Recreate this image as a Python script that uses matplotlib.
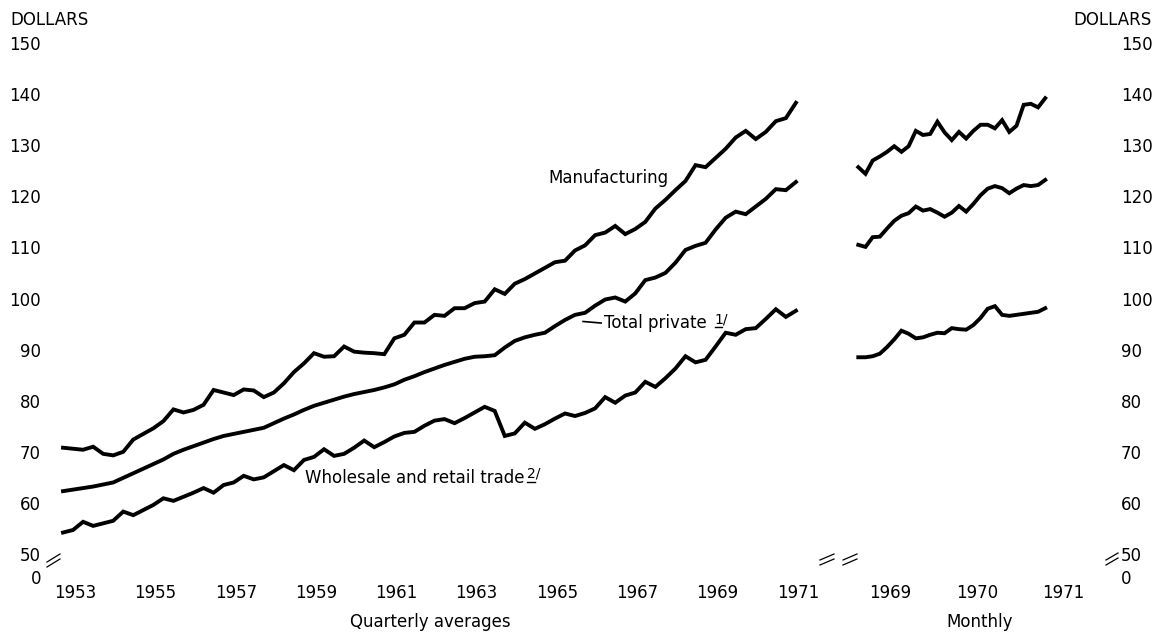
import matplotlib.pyplot as plt
from matplotlib.lines import Line2D

# Average weekly earnings, quarterly averages 1953 Q1 - 1971 Q2
manufacturing_q = [
    70.8, 70.6, 70.4, 71.0, 69.6, 69.3, 70.0, 72.4, 73.5, 74.6,
    76.0, 78.3, 77.7, 78.2, 79.2, 82.1, 81.6, 81.1, 82.2, 82.0,
    80.7, 81.6, 83.4, 85.6, 87.3, 89.3, 88.6, 88.7, 90.6, 89.6,
    89.4, 89.3, 89.1, 92.2, 92.9, 95.3, 95.3, 96.8, 96.6, 98.1,
    98.1, 99.1, 99.4, 101.8, 100.9, 102.9, 103.8, 104.9, 106.0, 107.1,
    107.4, 109.4, 110.4, 112.4, 112.9, 114.2, 112.6, 113.6, 115.0, 117.6,
    119.3, 121.2, 123.0, 126.1, 125.7, 127.5, 129.3, 131.5, 132.8, 131.2,
    132.6, 134.7, 135.3, 138.3,
]
total_private_q = [
    62.3, 62.6, 62.9, 63.2, 63.6, 64.0, 64.9, 65.8, 66.7, 67.6,
    68.5, 69.6, 70.4, 71.1, 71.8, 72.5, 73.1, 73.5, 73.9, 74.3,
    74.7, 75.6, 76.5, 77.3, 78.2, 79.0, 79.6, 80.2, 80.8, 81.3,
    81.7, 82.1, 82.6, 83.2, 84.1, 84.8, 85.6, 86.3, 87.0, 87.6,
    88.2, 88.6, 88.7, 88.9, 90.4, 91.7, 92.4, 92.9, 93.3, 94.6,
    95.8, 96.8, 97.2, 98.6, 99.8, 100.2, 99.4, 101.0, 103.6, 104.1,
    105.0, 107.0, 109.5, 110.3, 110.9, 113.5, 115.8, 117.0, 116.5, 118.0,
    119.5, 121.4, 121.2, 122.8,
]
trade_q = [
    54.2, 54.7, 56.3, 55.5, 56.0, 56.5, 58.3, 57.6, 58.6, 59.6,
    60.9, 60.4, 61.2, 62.0, 62.9, 62.0, 63.5, 64.0, 65.3, 64.6,
    65.0, 66.2, 67.4, 66.4, 68.4, 69.0, 70.5, 69.2, 69.6, 70.8,
    72.2, 70.9, 71.9, 73.0, 73.7, 73.9, 75.1, 76.1, 76.4, 75.6,
    76.6, 77.7, 78.8, 78.0, 73.1, 73.6, 75.7, 74.5, 75.4, 76.5,
    77.5, 77.0, 77.6, 78.5, 80.7, 79.6, 81.0, 81.6, 83.7, 82.7,
    84.4, 86.3, 88.7, 87.5, 88.0, 90.6, 93.3, 92.9, 94.0, 94.2,
    96.0, 97.9, 96.4, 97.6,
]

# Monthly, Feb 1969 - Apr 1971
manufacturing_m = [
    125.7, 124.4, 127.0, 127.8, 128.7, 129.8, 128.7, 129.8, 132.8, 132.0,
    132.2, 134.6, 132.5, 131.0, 132.6, 131.3, 132.8, 134.0, 134.0, 133.3,
    134.9, 132.6, 133.8, 137.9, 138.1, 137.4, 139.2,
]
total_private_m = [
    110.5, 110.1, 112.0, 112.1, 113.7, 115.2, 116.2, 116.7, 118.0, 117.2,
    117.5, 116.8, 116.0, 116.8, 118.1, 117.0, 118.5, 120.2, 121.5, 122.0,
    121.6, 120.6, 121.5, 122.2, 122.0, 122.2, 123.2,
]
trade_m = [
    88.5, 88.5, 88.7, 89.2, 90.5, 92.0, 93.7, 93.1, 92.2, 92.4,
    92.9, 93.3, 93.2, 94.2, 94.0, 93.9, 94.8, 96.2, 98.0, 98.5,
    96.8, 96.6, 96.8, 97.0, 97.2, 97.4, 98.1,
]

q_years = list(range(1953, 1972, 2))
m_years = [1969, 1970, 1971]
y_values = [50, 60, 70, 80, 90, 100, 110, 120, 130, 140, 150]

W, H = 1157, 636
FS = 12


def box(x0, x1, y0, y1):
    # pixel box -> figure fraction rect
    return [x0 / W, 1 - y1 / H, (x1 - x0) / W, (y1 - y0) / H]


def fx(x):
    return x / W


def fy(y):
    return 1 - y / H


fig = plt.figure(figsize=(W / 100, H / 100), dpi=100)
fig.patch.set_facecolor("white")

ax_q = fig.add_axes(box(50, 815, 30, 590))
ax_m = fig.add_axes(box(840, 1100, 30, 590))

ylim = (150 - 547 / 5.11, 150 + 13 / 5.11)
zero_pos = 150 - 534 / 5.11  # where the "0" label sits below the break

lw = 2.8
xq = range(len(manufacturing_q))
for s in (manufacturing_q, total_private_q, trade_q):
    ax_q.plot(xq, s, color="black", lw=lw, solid_joinstyle="miter")
xm = range(len(manufacturing_m))
for s in (manufacturing_m, total_private_m, trade_m):
    ax_m.plot(xm, s, color="black", lw=lw, solid_joinstyle="miter")

ax_q.set_xlim(-13 / 10.04, 752 / 10.04)
ax_m.set_xlim(-18.3 / 7.19, 241.7 / 7.19)

for ax in (ax_q, ax_m):
    ax.set_ylim(*ylim)
    for sp in ax.spines.values():
        sp.set_visible(False)
    ax.set_facecolor("none")

yt = [zero_pos] + y_values
yl = ["0"] + [str(v) for v in y_values]

ax_q.set_xticks([4 * (y - 1953) + 1.2 for y in q_years])
ax_q.set_xticklabels([str(y) for y in q_years], fontsize=FS)
ax_q.set_yticks(yt)
ax_q.set_yticklabels(yl, fontsize=FS)
ax_q.tick_params(length=0, axis="y", pad=6.5)
ax_q.tick_params(length=0, axis="x", pad=-4)

ax_m.set_xticks([4.5 + 12 * k for k in range(len(m_years))])
ax_m.set_xticklabels([str(y) for y in m_years], fontsize=FS)
ax_m.yaxis.tick_right()
ax_m.set_yticks(yt)
ax_m.set_yticklabels(yl, fontsize=FS)
ax_m.tick_params(length=0, axis="y", pad=15)
ax_m.tick_params(length=0, axis="x", pad=-4)

# series labels
ax_q.text(48.3, 123.6, "Manufacturing", fontsize=FS, ha="left", va="center")
ax_q.text(53.9, 95.2, "Total private", fontsize=FS, ha="left", va="center")
ax_q.plot([51.8, 53.6], [95.5, 95.2], color="black", lw=1.2)
ax_q.text(64.9, 95.9, "1/", fontsize=10, ha="left", va="center")
ax_q.plot([64.9, 65.6], [94.4, 94.4], color="black", lw=1.0)
ax_q.text(24.1, 64.9, "Wholesale and retail trade", fontsize=FS, ha="left", va="center")
ax_q.text(46.2, 65.7, "2/", fontsize=10, ha="left", va="center")
ax_q.plot([46.2, 47.0], [64.1, 64.1], color="black", lw=1.0)

# axis titles
fig.text(fx(10), fy(20), "DOLLARS", fontsize=FS, ha="left", va="center")
fig.text(fx(1152), fy(20), "DOLLARS", fontsize=FS, ha="right", va="center")
fig.text(fx(430), fy(622), "Quarterly averages", fontsize=FS, ha="center", va="center")
fig.text(fx(980), fy(622), "Monthly", fontsize=FS, ha="center", va="center")


# scale break marks
def brk(x, y, dx=13, dy=8, gap=5):
    for off in (0, gap):
        fig.add_artist(Line2D([fx(x), fx(x + dx)], [fy(y + off), fy(y + off - dy)],
                              color="black", lw=0.9))


brk(47, 562)
brk(820, 560, dx=14, dy=6, gap=5)
brk(843, 560, dx=14, dy=6, gap=5)
brk(1106, 560, dx=12, dy=7, gap=5)

fig.savefig("out.png", dpi=100)
